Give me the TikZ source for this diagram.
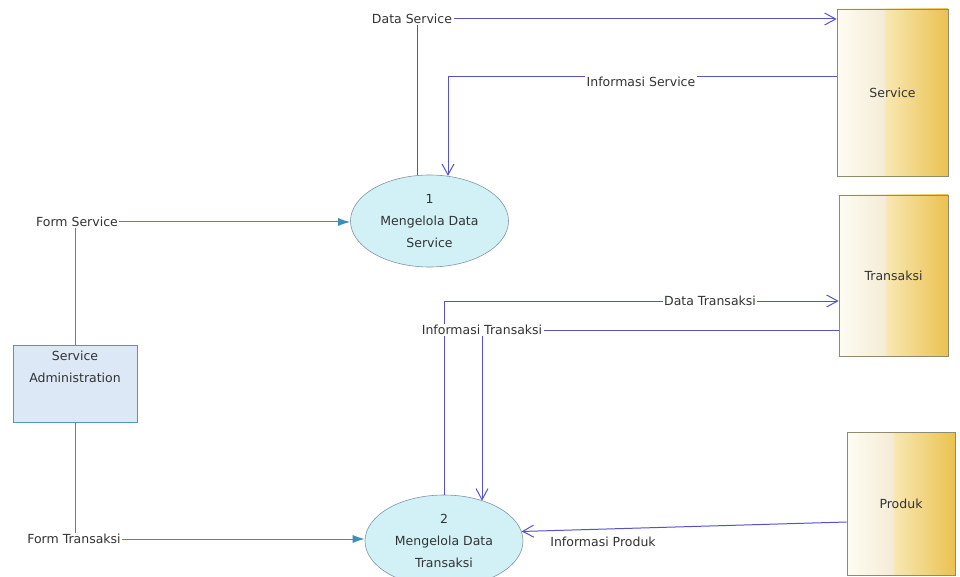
\documentclass[tikz,border=0pt]{standalone}
\usepackage{fontspec}
\setmainfont{DejaVu Sans}
\usetikzlibrary{shapes.geometric,arrows.meta}

\definecolor{flowblue}{HTML}{5454C8}
\definecolor{flowteal}{HTML}{3C8FB4}
\definecolor{txt}{HTML}{333333}
\definecolor{procfill}{HTML}{D2F1F6}
\definecolor{procline}{HTML}{8294A6}
\definecolor{extfill}{HTML}{DCE8F5}
\definecolor{extline}{HTML}{4F9CAE}
\definecolor{storeL}{HTML}{FEFCF3}
\definecolor{storeM}{HTML}{F4ECD6}
\definecolor{storeN}{HTML}{F8E7B2}
\definecolor{storeR}{HTML}{EBC250}
\definecolor{storeline}{HTML}{8E8C6C}

% data store fill: pale on the left, gold on the right
\pgfdeclarehorizontalshading{storeshade}{100bp}{color(0bp)=(storeL); color(25bp)=(storeL); color(46bp)=(storeM); color(47bp)=(storeN); color(75bp)=(storeR); color(100bp)=(storeR)}

\pgfdeclarelayer{fg}
\pgfsetlayers{main,fg}

\tikzset{
  lblfont/.style={font=\fontsize{12.5}{22}\selectfont},
  lbl/.style={lblfont, text=txt, fill=white, inner sep=1.5pt},
  proc/.style={ellipse, draw=procline, line width=0.6pt, fill=procfill,
    minimum width=158, minimum height=92, inner sep=0pt, align=center,
    lblfont, text=txt},
  ext/.style={rectangle, draw=extline, line width=0.9pt, fill=extfill,
    minimum width=124, minimum height=77},
  store/.style={rectangle, draw=storeline, line width=0.7pt, shading=storeshade,
    lblfont, text=txt},
  dflow/.style={draw=flowblue, line width=1pt, -{Straight Barb[length=11pt,width=12pt]}},
  fflow/.style={draw=flowteal, line width=1pt, -{Latex[length=12pt,width=8pt]}},
}

\begin{document}
\begin{tikzpicture}[x=1pt, y=-1pt]
\useasboundingbox (0,0) rectangle (960,577);
\fill[white] (0,0) rectangle (960,577);

% processes
\node[proc] (p1) at (429.5,221) {1\\Mengelola Data\\Service};
\node[proc] (p2) at (444,541) {2\\Mengelola Data\\Transaksi};

% external entity
\node[ext] (sa) at (75,383.5) {};
\node[lblfont, text=txt, align=center, anchor=north, inner sep=0pt] (satxt)
  at ([yshift=-6pt]sa.north) {Service\\Administration};

% data stores
\node[store, minimum width=111, minimum height=167] (s1) at (892.5,92.5) {Service};
\node[store, minimum width=109, minimum height=161] (s2) at (893.5,275.5) {Transaksi};
\node[store, minimum width=108, minimum height=143] (s3) at (901,503.5) {Produk};

% flow labels sit above the lines
\begin{pgfonlayer}{fg}
\node[lbl] (dsl) at (412,19) {Data Service};
\node[lbl] (isl) at (641,82) {Informasi Service};
\node[lbl] (dtl) at (710,301) {Data Transaksi};
\node[lbl] (itl) at (482,330) {Informasi Transaksi};
\node[lbl] (fsl) at (77,222) {Form Service};
\node[lbl] (ftl) at (74,539) {Form Transaksi};
\node[lbl] (ipl) at (603,542) {Informasi Produk};
\end{pgfonlayer}

% data flows
\coordinate (isc) at (448,77);
\draw[dflow] (p1.105) |- (dsl.center -| s1.west);
\draw[dflow] (s1.west |- isc) -- (isc) -- (isc |- p1.68);
\draw[dflow] (p2.north) |- (dtl.center -| s2.west);
\draw[dflow] (itl.center -| s2.west) -- (itl.center) -- (itl.center |- p2.46);
\draw[dflow] ([yshift=-18.5pt]s3.west) -- (p2.7);
\draw[fflow] (sa.north) |- (fsl.center -| p1.west);
\draw[fflow] (sa.south) |- (ftl.center -| p2.west);
\end{tikzpicture}
\end{document}
